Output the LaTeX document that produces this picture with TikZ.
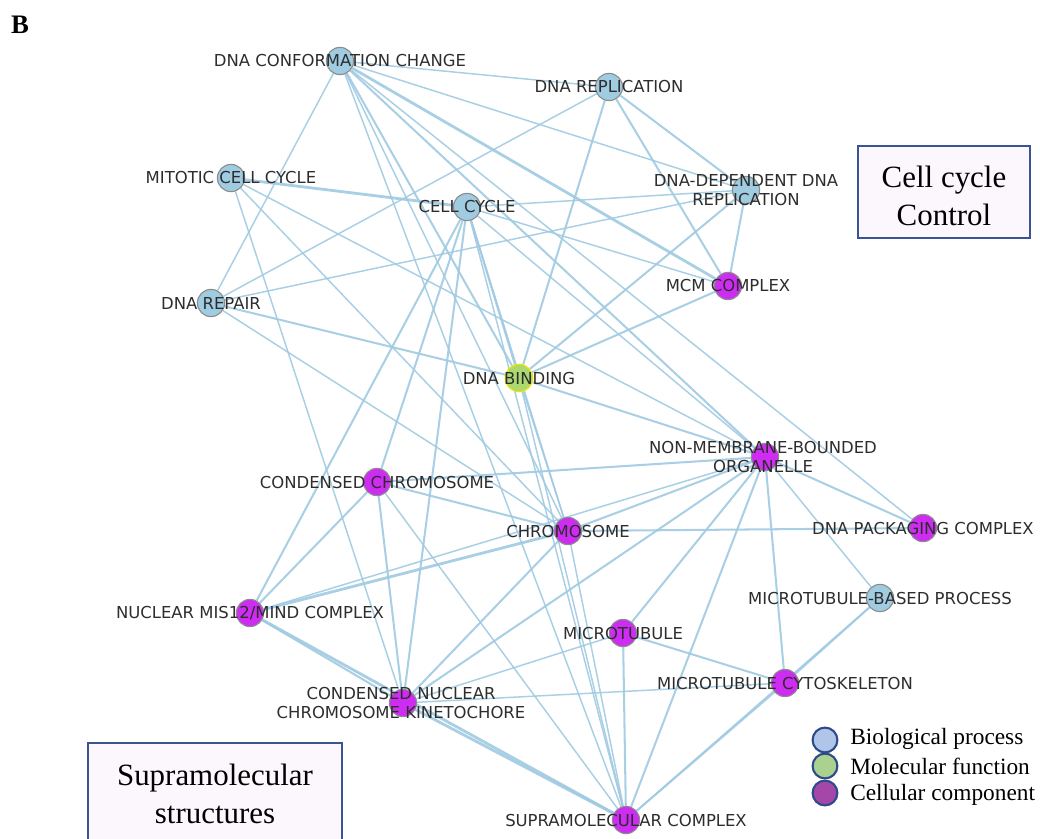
\documentclass[tikz,border=0pt]{standalone}
\usepackage{fontspec}
\setmainfont{Liberation Serif}
\newfontfamily\labelfont{DejaVu Sans}
\usetikzlibrary{backgrounds}
\definecolor{edgec}{RGB}{160,202,226}
\definecolor{bpfill}{RGB}{160,204,226}
\definecolor{ccfill}{RGB}{206,44,242}
\definecolor{mffill}{RGB}{172,216,112}
\definecolor{mfring}{RGB}{226,226,20}
\definecolor{nodering}{RGB}{140,140,140}
\definecolor{labtext}{RGB}{45,45,45}
\definecolor{boxline}{RGB}{58,84,147}
\definecolor{boxfill}{RGB}{252,247,252}
\definecolor{legbp}{RGB}{176,198,232}
\definecolor{legmf}{RGB}{170,210,142}
\definecolor{legcc}{RGB}{163,72,168}
\definecolor{legring}{RGB}{46,74,138}
\tikzset{
  term/.style={circle, inner sep=0pt, minimum size=0.68cm, draw=nodering, line width=0.8pt},
  bp/.style={term, fill=bpfill},
  cc/.style={term, fill=ccfill},
  mf/.style={term, fill=mffill, draw=mfring, line width=1pt},
  lab/.style={font=\labelfont\fontsize{11.7}{13.6}\selectfont, text=labtext, align=center, inner sep=0pt},
  edge/.style={draw=edgec, line width=1.05pt, opacity=0.9},
  medge/.style={draw=edgec, line width=1.45pt, opacity=0.9},
  tedge/.style={draw=edgec, line width=2pt, opacity=0.9},
  groupbox/.style={draw=boxline, line width=1.4pt, fill=boxfill, align=center, inner sep=0pt,
    font=\fontsize{22}{27}\selectfont},
  legdot/.style={circle, inner sep=0pt, minimum size=0.62cm, draw=legring, line width=1.5pt},
  legtext/.style={anchor=west, inner sep=0pt, font=\fontsize{16.6}{20}\selectfont}
}
\begin{document}
\begin{tikzpicture}[x=0.025cm, y=-0.025cm]
\useasboundingbox (0,0) rectangle (1040,838);

% panel letter
\node[font=\bfseries\fontsize{19}{22}\selectfont, inner sep=0pt] (panel) at (20,25) {B};

% GO terms
\node[bp] (dcc)   at (340,61)  {};
\node[bp] (drep)  at (609,87)  {};
\node[bp] (mcc)   at (231,178) {};
\node[bp] (ccy)   at (467,207) {};
\node[bp] (ddr)   at (746,190) {};
\node[cc] (mcm)   at (728,286) {};
\node[bp] (drp)   at (211,303) {};
\node[mf] (dbd)   at (519,378) {};
\node[cc] (nmb)   at (765,457) {};
\node[cc] (cchr)  at (377,482) {};
\node[cc] (chr)   at (568,531) {};
\node[cc] (dpc)   at (923,528) {};
\node[bp] (mtbp)  at (880,598) {};
\node[cc] (nmis)  at (250,613) {};
\node[cc] (mt)    at (623,633) {};
\node[cc] (mtc)   at (785,683) {};
\node[cc] (cnck)  at (403,703) {};
\node[cc] (sup)   at (626,820) {};

% shared annotations
\begin{pgfonlayer}{background}
\draw[edge]  (dcc) -- (drep);
\draw[edge]  (dcc) -- (drp);
\draw[edge]  (dcc) -- (ddr);
\draw[tedge] (dcc) -- (mcm);
\draw[medge] (dcc) -- (nmb);
\draw[edge]  (dcc) -- (dpc);
\draw[edge]  (dcc) -- (chr);
\draw[edge]  (dcc) -- (sup);
\draw[medge] (dcc) -- (dbd);
\draw[edge]  (drep) -- (drp);
\draw[medge] (drep) -- (ddr);
\draw[medge] (drep) -- (mcm);
\draw[medge] (drep) -- (dbd);
\draw[tedge] (mcc) -- (ccy);
\draw[edge]  (mcc) -- (chr);
\draw[edge]  (mcc) -- (nmb);
\draw[edge]  (mcc) -- (cnck);
\draw[edge]  (drp) -- (ddr);
\draw[medge] (drp) -- (dbd);
\draw[edge]  (drp) -- (chr);
\draw[edge]  (ccy) -- (ddr);
\draw[edge]  (ccy) -- (mcm);
\draw[medge] (ccy) -- (dbd);
\draw[medge] (ccy) -- (cchr);
\draw[edge]  (ccy) -- (chr);
\draw[medge] (ccy) -- (nmis);
\draw[medge] (ccy) -- (cnck);
\draw[edge]  (ccy) -- (sup);
\draw[edge]  (ccy) -- (nmb);
\draw[medge] (ddr) -- (mcm);
\draw[medge] (ddr) -- (dbd);
\draw[medge] (mcm) -- (dbd);
\draw[medge] (dbd) -- (nmb);
\draw[edge]  (dbd) -- (chr);
\draw[edge]  (dbd) -- (sup);
\draw[medge] (nmb) -- (cchr);
\draw[medge] (nmb) -- (chr);
\draw[medge] (nmb) -- (dpc);
\draw[edge]  (nmb) -- (nmis);
\draw[medge] (nmb) -- (cnck);
\draw[medge] (nmb) -- (mt);
\draw[medge] (nmb) -- (mtc);
\draw[medge] (nmb) -- (sup);
\draw[edge]  (nmb) -- (mtbp);
\draw[medge] (cchr) -- (chr);
\draw[medge] (cchr) -- (nmis);
\draw[medge] (cchr) -- (cnck);
\draw[edge]  (cchr) -- (sup);
\draw[medge] (chr) -- (dpc);
\draw[tedge] (chr) -- (nmis);
\draw[medge] (chr) -- (cnck);
\draw[edge]  (chr) -- (sup);
\draw[medge] (mtbp) -- (mtc);
\draw[edge]  (mtbp) -- (sup);
\draw[medge] (mt) -- (mtc);
\draw[medge] (mt) -- (sup);
\draw[edge]  (mt) -- (cnck);
\draw[edge]  (mtc) -- (cnck);
\draw[medge] (mtc) -- (sup);
\draw[medge] (nmis) -- (cnck);
\draw[tedge] (nmis) -- (sup);
\draw[tedge] (cnck) -- (sup);
\end{pgfonlayer}

% term names
\node[lab] (dcc-l)  at (dcc)  {DNA CONFORMATION CHANGE};
\node[lab] (drep-l) at (drep) {DNA REPLICATION};
\node[lab] (mcc-l)  at (mcc)  {MITOTIC CELL CYCLE};
\node[lab] (ccy-l)  at (ccy)  {CELL CYCLE};
\node[lab] (ddr-l)  at (ddr)  {DNA-DEPENDENT DNA\\REPLICATION};
\node[lab] (mcm-l)  at (mcm)  {MCM COMPLEX};
\node[lab] (drp-l)  at (drp)  {DNA REPAIR};
\node[lab] (dbd-l)  at (dbd)  {DNA BINDING};
\node[lab] (nmb-l)  at (763,457) {NON-MEMBRANE-BOUNDED\\ORGANELLE};
\node[lab] (cchr-l) at (cchr) {CONDENSED CHROMOSOME};
\node[lab] (chr-l)  at (chr)  {CHROMOSOME};
\node[lab] (dpc-l)  at (dpc)  {DNA PACKAGING COMPLEX};
\node[lab] (mtbp-l) at (mtbp) {MICROTUBULE-BASED PROCESS};
\node[lab] (nmis-l) at (nmis) {NUCLEAR MIS12/MIND COMPLEX};
\node[lab] (mt-l)   at (mt)   {MICROTUBULE};
\node[lab] (mtc-l)  at (mtc)  {MICROTUBULE CYTOSKELETON};
\node[lab] (cnck-l) at (401,703) {CONDENSED NUCLEAR\\CHROMOSOME KINETOCHORE};
\node[lab] (sup-l)  at (sup)  {SUPRAMOLECULAR COMPLEX};

% group boxes
\node[groupbox, minimum width=4.3cm, minimum height=2.3cm] (ccbox) at (944,192) {};
\node[font=\fontsize{22}{27}\selectfont, align=center, inner sep=0pt] (cctext) at (944,196) {Cell cycle\\Control};
\node[groupbox, minimum width=6.35cm, minimum height=2.55cm] (supbox) at (215,794) {Supramolecular\\structures};

% legend
\node[legdot, fill=legbp] (leg1) at (825,740) {};
\node[legdot, fill=legmf] (leg2) at (825,766) {};
\node[legdot, fill=legcc] (leg3) at (825,793) {};
\node[legtext] (leg1-t) at (850,739) {Biological process};
\node[legtext] (leg2-t) at (850,766) {Molecular function};
\node[legtext] (leg3-t) at (850,795) {Cellular component};
\end{tikzpicture}
\end{document}
